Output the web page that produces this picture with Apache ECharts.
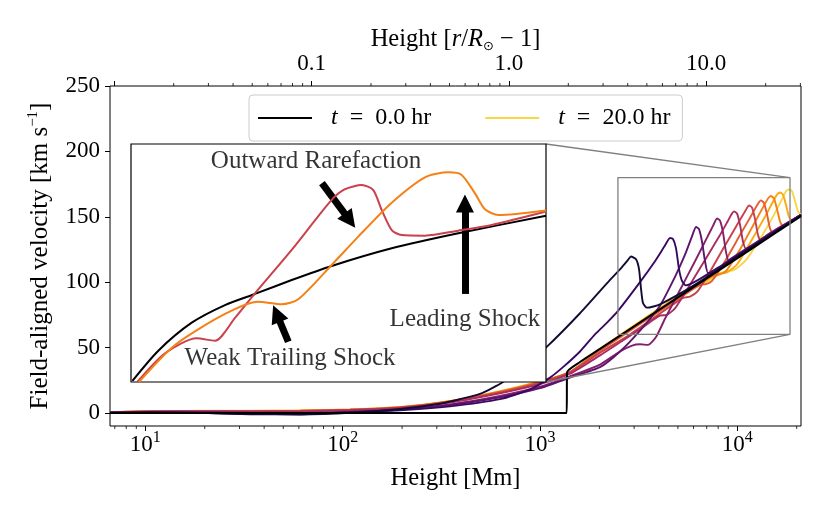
<!DOCTYPE html>
<html><head><meta charset="utf-8">
<script src="https://cdn.jsdelivr.net/npm/echarts@6/dist/echarts.min.js"></script>
<style>html,body{margin:0;padding:0;background:#fff;}#c{width:830px;height:519px;}</style>
</head><body><div id="c"></div>
<script>
const FONT = "'Liberation Serif', 'DejaVu Serif', serif";
const RSUN = 696; // Mm
const xRange = [6.62, 21030];
const yRange = [-10, 250];
const xMinor = [7,8,9,20,30,40,50,60,70,80,90,200,300,400,500,600,700,800,900,2000,3000,4000,5000,6000,7000,8000,9000,20000];
const topMinor = [0.02,0.03,0.04,0.05,0.06,0.07,0.08,0.09,0.2,0.3,0.4,0.5,0.6,0.7,0.8,0.9,2,3,4,5,6,7,8,9,20,30];
const yTicks = [0, 50, 100, 150, 200, 250];
const times = [0, 2, 4, 6, 8, 10, 12, 14, 16, 18, 20];
const colors = ['#000004','#140b35','#390962','#5e136c','#83206a','#a82e5e','#c9414a','#e45c30','#f58016','#fbaa0e','#f6d746'];

// velocity profiles [height Mm, km/s]
const t00 = [[6.62,0],[100,0],[1000,0],[1365,0],[1372,31],[1595,38.9],[2014,49],[3610,74.2],[6471,99.5],[11600,124.7],[21030,150.5]];
const t02 = [[6.62,0],[10.55,0.3],[18.91,0],[33.9,-1],[60.77,-1.2],[108.9,0],[195.2,3],[311.3,7],[393.1,10.5],[496.5,14.5],[649.4,23.7],[839.5,37],[1085,50.7],[1595,76.2],[2264,101.7],[2604,111.5],[2793,117],[2892,119.6],[3067,117.5],[3176,110],[3251,95],[3327,84],[3486,80.5],[4056,83],[6471,100.4],[11600,126],[21030,151]];
const t04 = [[6.62,0],[10.55,0.5],[18.91,0],[33.9,-0.8],[60.77,-1],[108.9,0.5],[195.2,2],[349.9,5],[627.1,10.5],[889.9,18],[1124,27],[1308,35],[1595,47],[1900,60],[2186,69],[2485,78],[3213,100],[3827,116],[4300,128],[4559,133.8],[4721,133],[4890,126],[5064,110],[5245,101],[5496,97.5],[6471,102.5],[8172,112],[13032,131.5],[21030,151.5]];
const t06 = [[6.62,0.3],[18.91,0.5],[33.9,-0.3],[60.77,-0.6],[108.9,0.5],[195.2,2.5],[349.9,6],[627.1,12],[1000,19],[1419,27],[2014,35],[2544,47],[3213,63],[4056,82],[4833,104],[5432,121],[5894,135],[6176,142.2],[6396,140.5],[6624,131],[6861,116],[7104,107],[7444,107],[9184,117.5],[14645,137],[21030,151.5]];
const t08 = [[6.62,0.5],[18.91,0.8],[33.9,0.3],[60.77,0],[108.9,1],[195.2,2.5],[349.9,6.5],[627.1,13],[1000,20],[1419,28],[2014,37],[2544,47],[2927,51.5],[3213,52.5],[3527,52],[3873,58],[4300,72],[5124,94],[6104,116],[7023,134],[7531,143],[7892,148.7],[8172,147],[8463,138],[8765,123],[9077,116],[9735,118],[14645,137.5],[21030,151.5]];
const t10 = [[6.62,0.4],[10.55,1],[18.91,1.2],[33.9,1],[60.77,1.2],[108.9,2],[195.2,3.8],[349.9,8],[627.1,15],[1000,22],[1419,30],[2014,44],[2544,54],[3213,64],[3696,70.5],[4056,74.5],[4402,75],[4833,80],[5759,98],[6861,117],[8172,136],[8972,147],[9400,152.5],[9622,154.1],[9965,152.5],[10320,144],[10688,131],[11068,125.5],[13032,131.5],[21030,151.5]];
const t12 = [[6.62,0.5],[10.55,1.1],[18.91,1.4],[33.9,1.3],[60.77,1.5],[108.9,2.3],[195.2,4],[349.9,8.5],[627.1,15.5],[1000,23],[1419,31],[2014,46],[2859,60],[4056,76],[4890,84.5],[5307,88],[5759,89],[6248,92.5],[7272,108],[8663,128],[10081,145],[10940,154],[11464,158.6],[11874,157],[12292,148.5],[12731,136],[13187,131.5],[16460,141],[21030,151.5]];
const t14 = [[6.62,0.5],[10.55,1.2],[18.91,1.5],[33.9,1.4],[60.77,1.6],[108.9,2.4],[195.2,4.2],[349.9,8.8],[627.1,16],[1000,23.5],[1419,31.5],[2014,47.5],[3213,68],[5124,88],[6471,98],[6941,98.5],[7444,101],[8663,116],[10320,136],[11874,152],[12731,160],[13187,162.5],[13656,160.5],[14142,152],[14645,141],[15167,137.5],[18495,146],[21030,151.5]];
const t16 = [[6.62,0.5],[10.55,1.2],[18.91,1.5],[33.9,1.5],[60.77,1.7],[108.9,2.5],[195.2,4.3],[349.9,9],[627.1,16.3],[1000,23.8],[1419,31],[2014,48],[3213,69],[5124,89.5],[6861,101.5],[7620,105],[8172,106],[8765,108.5],[10320,125],[12292,146],[13815,160],[14308,164],[14818,165.9],[15346,164],[15890,156],[16460,146.5],[17046,143],[21030,151.5]];
const t18 = [[6.62,0.6],[10.55,1.3],[18.91,1.6],[33.9,1.6],[60.77,1.8],[108.9,2.6],[195.2,4.4],[349.9,9],[627.1,16.5],[1000,24],[1419,31],[2014,48.5],[3213,69.5],[5124,90],[6471,98],[7444,104],[8078,106.5],[8868,107.5],[9965,113.5],[11600,130],[13815,150],[15346,163],[15890,167],[16460,168.6],[17046,167],[17655,159],[18281,150],[18933,147],[21030,151.5]];
const t20 = [[6.62,0.6],[10.55,1.4],[18.91,1.7],[33.9,1.7],[60.77,1.9],[108.9,2.7],[195.2,4.5],[349.9,9.2],[627.1,16.7],[1000,24],[1419,31],[2014,49],[3213,70],[5124,90.5],[6471,97.5],[7709,104],[8663,108.5],[9511,109],[10940,116],[13032,133],[15530,153],[17046,165],[17655,169.5],[18281,170.9],[18933,169.5],[19610,162],[20310,154],[21030,151.5]];
const profiles = [t00, t02, t04, t06, t08, t10, t12, t14, t16, t18, t20];

// inset (zoom region)
const insetX = [2483, 18500];
const insetY = [60, 180];
const insetBlack = [[2500,60.6],[2834,75.8],[3331,89.9],[3913,98.8],[4524,104.4],[5404,111.4],[6556,118.5],[8768,127.4],[12100,135],[18500,143.8]];
const insetRed = [[2560,60],[2927,74.5],[3412,82],[3728,80.8],[4107,92.3],[4524,104.7],[5404,126.6],[6556,151.8],[6996,157.2],[7584,159.3],[8020,156.8],[8354,146.7],[8768,136.6],[9200,134.1],[10300,133.8],[12100,136.3],[14220,139.2],[18500,146]];
const insetOrange = [[2580,60],[3073,78.7],[3913,94.3],[4597,100.5],[5148,99.2],[5578,101.7],[6556,119],[7458,133.3],[8768,150.4],[10300,163.2],[11530,165.7],[12300,164.4],[13120,155.1],[13770,147.1],[14690,144.2],[18500,146.5]];
const insetColors = ['#000004', '#c9414a', '#f58016'];
const annotations = [[6078,171.4,'Outward Rarefaction'],[12497,91.3,'Leading Shock'],[5360,72.1,'Weak Trailing Shock']];
const arrows = [[[6256,160.3],[7161,141.4]],[[12497,104.4],[12497,150]],[[5316,80.3],[5023,94.5]]];

const mainSeries = [];
for (let i = profiles.length - 1; i >= 0; i--) {
  mainSeries.push({
    name: 't' + times[i], type: 'line', xAxisIndex: 0, yAxisIndex: 0,
    data: profiles[i], symbol: 'none', showSymbol: false, smooth: 0.2,
    lineStyle: {color: colors[i], width: i === 0 ? 2 : 1.9}, itemStyle: {color: colors[i]},
    z: 2, silent: true
  });
}
const insetSeries = [insetBlack, insetRed, insetOrange].map((d, i) => ({
  name: 'inset' + i, type: 'line', xAxisIndex: 2, yAxisIndex: 1, data: d,
  symbol: 'none', smooth: 0.25, lineStyle: {color: insetColors[i], width: 2},
  z: 6, silent: true
}));

const option = {
  animation: false,
  backgroundColor: '#fff',
  grid: [
    {left: 110, top: 86, width: 691, height: 340, show: true, borderColor: '#000', borderWidth: 1, backgroundColor: 'transparent'},
    {left: 131, top: 144, width: 415, height: 238, show: true, borderColor: '#000', borderWidth: 1.2, backgroundColor: '#fff', z: 5}
  ],
  legend: {
    data: ['t0', 't20'], left: 249, top: 95, icon: 'rect', itemWidth: 54, itemHeight: 2, itemGap: 54,
    padding: [11, 12, 11, 9], borderColor: '#cccccc', borderWidth: 1, borderRadius: 4,
    backgroundColor: 'rgba(255,255,255,0.85)', selectedMode: false, z: 8,
    formatter: n => n === 't0' ? '{i|t}  =  0.0 hr' : '{i|t}  =  20.0 hr',
    textStyle: {fontFamily: FONT, fontSize: 24, color: '#000', padding: [0, 0, 0, 14],
      rich: {i: {fontFamily: FONT, fontSize: 24, fontStyle: 'italic', color: '#000'}}}
  },
  xAxis: [
    {gridIndex: 0, type: 'log', logBase: 10, min: xRange[0], max: xRange[1], position: 'bottom',
     axisLine: {show: false, onZero: false}, splitLine: {show: false},
     axisTick: {show: true, length: 5, lineStyle: {color: '#000', width: 1}},
     axisLabel: {margin: 4, showMinLabel: false, showMaxLabel: false,
       formatter: v => {
         const e = Math.log10(v);
         if (Math.abs(e - Math.round(e)) > 1e-6) return '';
         return '{b|10}{s|' + Math.round(e) + '}';
       },
       rich: {b: {fontFamily: FONT, fontSize: 23, lineHeight: 30, color: '#000'},
              s: {fontFamily: FONT, fontSize: 16, lineHeight: 10, verticalAlign: 'top', color: '#000'}}},
     name: 'Height [Mm]', nameLocation: 'middle', nameGap: 40, nameMoveOverlap: false,
     nameTextStyle: {fontFamily: FONT, fontSize: 24.5, color: '#000'}},
    {gridIndex: 0, type: 'log', logBase: 10, min: xRange[0] / RSUN, max: xRange[1] / RSUN, position: 'top',
     axisLine: {show: false, onZero: false}, splitLine: {show: false},
     axisTick: {show: true, length: 5, lineStyle: {color: '#000', width: 1}},
     axisLabel: {margin: 11, fontFamily: FONT, fontSize: 23, color: '#000', showMinLabel: false, showMaxLabel: false,
       formatter: v => {
         const e = Math.log10(v);
         if (Math.abs(e - Math.round(e)) > 1e-6 || v < 0.05) return '';
         return v < 1 ? String(v) : v.toFixed(1);
       }},
     name: '{n|Height [}{i|r}{n|/}{i|R}{sub|⊙}{n| − 1]}', nameLocation: 'middle', nameGap: 33, nameMoveOverlap: false,
     nameTextStyle: {fontFamily: FONT, fontSize: 24.5, color: '#000', rich: {
       n: {fontFamily: FONT, fontSize: 24.5, lineHeight: 26, color: '#000'},
       i: {fontFamily: FONT, fontSize: 24.5, lineHeight: 26, fontStyle: 'italic', color: '#000'},
       sub: {fontFamily: "'DejaVu Sans', sans-serif", fontSize: 13, lineHeight: 10, verticalAlign: 'bottom', color: '#000'}}}},
    {gridIndex: 1, type: 'log', logBase: 10, min: insetX[0], max: insetX[1],
     axisLine: {show: false, onZero: false}, axisTick: {show: false}, axisLabel: {show: false}, splitLine: {show: false}}
  ],
  yAxis: [
    {gridIndex: 0, type: 'value', min: yRange[0], max: yRange[1],
     axisLine: {show: false, onZero: false}, splitLine: {show: false},
     axisTick: {show: true, customValues: yTicks, length: 5, lineStyle: {color: '#000', width: 1}},
     axisLabel: {customValues: yTicks, margin: 10, fontFamily: FONT, fontSize: 23, color: '#000'},
     name: '{n|Field-aligned velocity [km s}{sup|−1}{n|]}', nameLocation: 'middle', nameGap: 56, nameMoveOverlap: false,
     nameTextStyle: {fontFamily: FONT, fontSize: 25, color: '#000', rich: {
       n: {fontFamily: FONT, fontSize: 25, lineHeight: 28, color: '#000'},
       sup: {fontFamily: FONT, fontSize: 15, lineHeight: 10, verticalAlign: 'top', color: '#000'}}}},
    {gridIndex: 1, type: 'value', min: insetY[0], max: insetY[1],
     axisLine: {show: false, onZero: false}, axisTick: {show: false}, axisLabel: {show: false}, splitLine: {show: false}}
  ],
  series: mainSeries.concat([
    {name: 'zoomBox', type: 'line', xAxisIndex: 0, yAxisIndex: 0, symbol: 'none', silent: true, z: 3,
     data: [[insetX[0], insetY[0]], [insetX[1], insetY[0]], [insetX[1], insetY[1]], [insetX[0], insetY[1]], [insetX[0], insetY[0]]],
     lineStyle: {color: '#808080', width: 1.3}}
  ]).concat(insetSeries).concat([
    {name: 'notes', type: 'scatter', xAxisIndex: 2, yAxisIndex: 1, symbolSize: 0, z: 7, silent: true,
     data: annotations,
     label: {show: true, position: 'inside', formatter: p => p.data[2], fontFamily: FONT, fontSize: 25, color: '#000'},
     markLine: {silent: true, symbol: ['none', 'triangle'], symbolSize: 18, animation: false,
       label: {show: false}, emphasis: {disabled: true},
       lineStyle: {color: '#000', width: 7, type: 'solid', opacity: 1},
       itemStyle: {color: '#000'},
       data: arrows.map(a => [{coord: a[0]}, {coord: a[1]}])}}
  ])
};

const chart = echarts.init(document.getElementById('c'), null, {renderer: 'canvas'});
chart.setOption(option);
const boxIdx = mainSeries.length;
const inIdx = mainSeries.length + 1;
const top1 = chart.convertToPixel({seriesIndex: boxIdx}, [insetX[1], insetY[1]]);
const top2 = chart.convertToPixel({seriesIndex: inIdx}, [insetX[1], insetY[1]]);
const bot1 = chart.convertToPixel({seriesIndex: boxIdx}, [insetX[1], insetY[0]]);
const bot2 = chart.convertToPixel({seriesIndex: inIdx}, [insetX[1], insetY[0]]);
const gfx = [
  {type: 'line', z: 3, silent: true, shape: {x1: top1[0], y1: top1[1], x2: top2[0], y2: top2[1]}, style: {stroke: '#808080', lineWidth: 1.3}},
  {type: 'line', z: 3, silent: true, shape: {x1: bot1[0], y1: bot1[1], x2: bot2[0], y2: bot2[1]}, style: {stroke: '#808080', lineWidth: 1.3}}
];
// minor ticks (log axes), positioned through the axes' own scales
const yBottom = chart.convertToPixel({yAxisIndex: 0}, yRange[0]);
const yTop = chart.convertToPixel({yAxisIndex: 0}, yRange[1]);
xMinor.forEach(v => {
  const px = chart.convertToPixel({xAxisIndex: 0}, v);
  gfx.push({type: 'line', z: 4, silent: true, shape: {x1: px, y1: yBottom, x2: px, y2: yBottom + 3}, style: {stroke: '#000', lineWidth: 0.8}});
});
topMinor.forEach(v => {
  const px = chart.convertToPixel({xAxisIndex: 1}, v);
  gfx.push({type: 'line', z: 4, silent: true, shape: {x1: px, y1: yTop, x2: px, y2: yTop - 3}, style: {stroke: '#000', lineWidth: 0.8}});
});
chart.setOption({graphic: gfx});
</script></body></html>
